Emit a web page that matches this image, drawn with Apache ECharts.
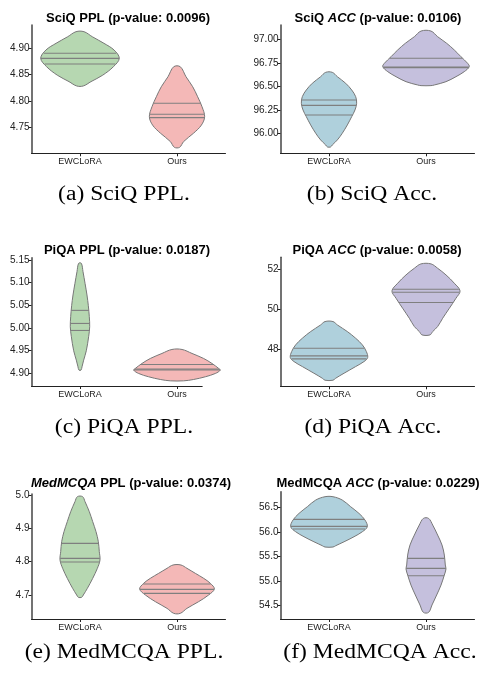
<!DOCTYPE html>
<html><head><meta charset="utf-8">
<script src="https://cdn.jsdelivr.net/npm/echarts@6/dist/echarts.min.js"></script>
<style>html,body{margin:0;padding:0;background:#fff}#c{width:485px;height:673px}</style>
</head><body><div id="c"></div>
<script>
const categories = ['EWCLoRA', 'Ours'];

// violin profiles: [value, half-width in category units], top to bottom
const sciqPplEwc = [[4.9316,0.041],[4.922,0.127],[4.9095,0.247],[4.8968,0.351],[4.881,0.405],[4.865,0.344],[4.849,0.234],[4.8367,0.113],[4.8285,0.034]];
const sciqPplOurs = [[4.865,0.034],[4.846,0.093],[4.827,0.162],[4.808,0.213],[4.789,0.258],[4.770,0.285],[4.754,0.251],[4.739,0.172],[4.723,0.069],[4.712,0.027]];
const sciqAccEwc = [[96.650,0.034],[96.604,0.086],[96.534,0.172],[96.463,0.234],[96.392,0.275],[96.322,0.285],[96.251,0.268],[96.180,0.234],[96.092,0.189],[96.004,0.137],[95.933,0.086],[95.880,0.034],[95.859,0.017]];
const sciqAccOurs = [[97.088,0.051],[97.028,0.120],[96.958,0.213],[96.887,0.292],[96.816,0.360],[96.746,0.429],[96.710,0.446],[96.657,0.394],[96.604,0.309],[96.551,0.206],[96.516,0.086],[96.509,0.051]];
const piqaPplEwc = [[5.1426,0.014],[5.1242,0.031],[5.0985,0.052],[5.0727,0.072],[5.0491,0.086],[5.0248,0.096],[5.0027,0.100],[4.9806,0.089],[4.9497,0.065],[4.9291,0.038],[4.9144,0.021],[4.907,0.010]];
const piqaPplOurs = [[4.9526,0.052],[4.9438,0.155],[4.9327,0.275],[4.9217,0.361],[4.9107,0.430],[4.907,0.447],[4.8996,0.395],[4.8923,0.292],[4.8864,0.172],[4.8834,0.069]];
const piqaAccEwc = [[49.367,0.041],[49.2,0.086],[48.867,0.189],[48.533,0.275],[48.2,0.344],[47.867,0.385],[47.567,0.399],[47.367,0.361],[47.117,0.275],[46.783,0.155],[46.533,0.069],[46.433,0.041]];
const piqaAccOurs = [[52.25,0.052],[52.033,0.120],[51.7,0.206],[51.283,0.292],[50.9,0.351],[50.533,0.309],[50.033,0.241],[49.533,0.172],[49.117,0.120],[48.867,0.069],[48.7,0.041]];
const medPplEwc = [[4.995,0.027],[4.98,0.052],[4.95,0.096],[4.92,0.131],[4.89,0.165],[4.86,0.189],[4.83,0.199],[4.805,0.206],[4.78,0.179],[4.75,0.131],[4.72,0.076],[4.70,0.034],[4.693,0.017]];
const medPplOurs = [[4.79,0.041],[4.78,0.103],[4.765,0.189],[4.75,0.275],[4.735,0.344],[4.718,0.385],[4.70,0.326],[4.68,0.223],[4.66,0.103],[4.645,0.034]];
const medAccEwc = [[56.717,0.041],[56.649,0.137],[56.514,0.223],[56.378,0.309],[56.242,0.371],[56.107,0.395],[56.005,0.344],[55.903,0.258],[55.80,0.155],[55.72,0.069],[55.693,0.041]];
const medAccOurs = [[56.276,0.027],[56.141,0.069],[55.937,0.120],[55.734,0.165],[55.53,0.189],[55.327,0.199],[55.246,0.206],[55.124,0.189],[54.92,0.155],[54.717,0.110],[54.514,0.062],[54.364,0.027]];

// quartiles [Q1, median, Q3]
const sciqPplQuart = [[4.8703,4.881,4.8905],[4.7684,4.7747,4.7956]];
const sciqAccQuart = [[96.198,96.30,96.357],[96.70,96.705,96.80]];
const piqaPplQuart = [[4.9945,5.010,5.0388],[4.9075,4.9095,4.9195]];
const piqaAccQuart = [[47.5,47.65,48.033],[50.317,50.833,50.983]];
const medPplQuart = [[4.799,4.81,4.855],[4.705,4.717,4.733]];
const medAccQuart = [[56.059,56.114,56.256],[55.11,55.259,55.463]];

// y tick labels
const sciqPplTicks = [4.75, 4.80, 4.85, 4.90];
const sciqAccTicks = [96.00, 96.25, 96.50, 96.75, 97.00];
const piqaPplTicks = [4.90, 4.95, 5.00, 5.05, 5.10, 5.15];
const piqaAccTicks = [48, 50, 52];
const medPplTicks = [4.7, 4.8, 4.9, 5.0];
const medAccTicks = [54.5, 55.0, 55.5, 56.0, 56.5];

const titles = [
  'SciQ PPL (p-value: 0.0096)',
  'SciQ {i|ACC} (p-value: 0.0106)',
  'PiQA PPL (p-value: 0.0187)',
  'PiQA {i|ACC} (p-value: 0.0058)',
  '{i|MedMCQA} PPL (p-value: 0.0374)',
  'MedMCQA {i|ACC} (p-value: 0.0229)'
];
const captions = ['(a) SciQ PPL.', '(b) SciQ Acc.', '(c) PiQA PPL.', '(d) PiQA Acc.', '(e) MedMCQA PPL.', '(f) MedMCQA Acc.'];

const green = '#b6d7b1', pink = '#f4b8b7', blue = '#afd0dc', purple = '#c5c0dd';

const panels = [
  {prof:[sciqPplEwc, sciqPplOurs], q:sciqPplQuart, ticks:sciqPplTicks, dec:2, col:[green,pink], ymin:4.7006, ymax:4.9443, xmax:1.5, grid:{left:31.5,top:25,width:194,height:128.3}, t:[128,18], c:[124,195]},
  {prof:[sciqAccEwc, sciqAccOurs], q:sciqAccQuart, ticks:sciqAccTicks, dec:2, col:[blue,purple], ymin:95.7915, ymax:97.152, xmax:1.5, grid:{left:280.5,top:25,width:194,height:128.3}, t:[378,18], c:[372,195]},
  {prof:[piqaPplEwc, piqaPplOurs], q:piqaPplQuart, ticks:piqaPplTicks, dec:2, col:[green,pink], ymin:4.872, ymax:5.155, xmax:1.26, grid:{left:31.5,top:257.7,width:170.7,height:128.3}, t:[127,250], c:[124,428]},
  {prof:[piqaAccEwc, piqaAccOurs], q:piqaAccQuart, ticks:piqaAccTicks, dec:0, col:[blue,purple], ymin:46.13, ymax:52.58, xmax:1.5, grid:{left:280.5,top:257.3,width:194,height:129}, t:[377,250], c:[373,428]},
  {prof:[medPplEwc, medPplOurs], q:medPplQuart, ticks:medPplTicks, dec:1, col:[green,pink], ymin:4.628, ymax:5.003, xmax:1.5, grid:{left:31.5,top:494,width:194,height:125}, t:[131,483], c:[124,653]},
  {prof:[medAccEwc, medAccOurs], q:medAccQuart, ticks:medAccTicks, dec:1, col:[blue,purple], ymin:54.229, ymax:56.819, xmax:1.5, grid:{left:280.5,top:491.7,width:194,height:127.3}, t:[378,483], c:[380,653]}
];

function hwAt(prof, v) {
  for (let i = 0; i < prof.length - 1; i++) {
    const a = prof[i], b = prof[i+1];
    if (v <= a[0] && v >= b[0]) {
      const t = (a[0] - v) / (a[0] - b[0]);
      return a[1] + t * (b[1] - a[1]);
    }
  }
  return 0;
}

const option = {
  animation: false,
  grid: panels.map(p => p.grid),
  xAxis: panels.map((p, i) => ({
    type: 'value', gridIndex: i, min: -0.5, max: p.xmax,
    axisLine: {show: true, onZero: false, lineStyle: {color: '#222', width: 1}},
    axisTick: {show: true, length: 3, customValues: [0, 1], lineStyle: {color: '#222'}},
    axisLabel: {customValues: [0, 1], formatter: v => categories[Math.round(v)], fontFamily: 'Liberation Sans', fontSize: 9, color: '#222', margin: 4},
    splitLine: {show: false}
  })),
  yAxis: panels.map((p, i) => ({
    type: 'value', gridIndex: i, min: p.ymin, max: p.ymax,
    axisLine: {show: true, onZero: false, lineStyle: {color: '#444', width: 1.5}},
    axisTick: {show: true, length: 3, customValues: p.ticks, lineStyle: {color: '#222'}},
    axisLabel: {customValues: p.ticks, formatter: v => Number(v).toFixed(p.dec), fontFamily: 'Liberation Sans', fontSize: 10, color: '#222', margin: 2},
    splitLine: {show: false}
  })),
  series: panels.map((p, i) => ({
    type: 'custom', xAxisIndex: i, yAxisIndex: i, clip: false,
    data: [[0], [1]],
    encode: {x: 0},
    renderItem: (params, api) => {
      const k = params.dataIndex;
      const prof = p.prof[k];
      const right = prof.map(d => api.coord([k + d[1], d[0]]));
      const left = prof.slice().reverse().map(d => api.coord([k - d[1], d[0]]));
      const children = [{
        type: 'polygon',
        shape: {points: right.concat(left), smooth: 0.35},
        style: {fill: p.col[k], stroke: '#777', lineWidth: 1}
      }];
      p.q[k].forEach(q => {
        const hw = hwAt(prof, q);
        const a = api.coord([k - hw, q]), b = api.coord([k + hw, q]);
        children.push({type: 'line', shape: {x1: a[0], y1: a[1], x2: b[0], y2: b[1]}, style: {stroke: '#7f7f7f', lineWidth: 1.1}});
      });
      return {type: 'group', children};
    }
  })),
  graphic: panels.map((p, i) => ({
    type: 'text', x: p.t[0], y: p.t[1] + 0.5,
    style: {text: titles[i], align: 'center', verticalAlign: 'middle', font: 'bold 13px "Liberation Sans"', fill: '#000',
      rich: {i: {fontStyle: 'italic', fontWeight: 'bold', fontSize: 13, fontFamily: 'Liberation Sans'}}}
  })).concat(panels.map((p, i) => ({
    type: 'text', x: p.c[0], y: p.c[1], scaleX: 1.18,
    style: {text: captions[i], align: 'center', verticalAlign: 'middle', font: '20px "Liberation Serif"', fill: '#000'}
  })))
};

const chart = echarts.init(document.getElementById('c'), null, {renderer: 'canvas'});
chart.setOption(option);
</script></body></html>
